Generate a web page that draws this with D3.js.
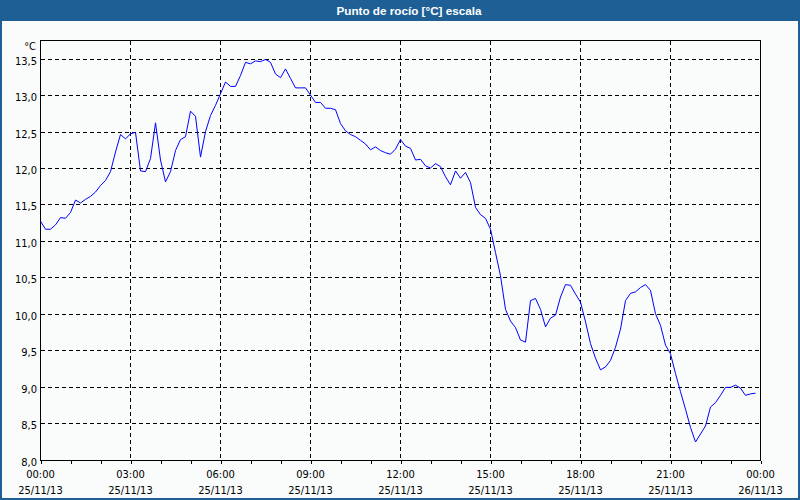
<!DOCTYPE html>
<html>
<head>
<meta charset="utf-8">
<script src="https://cdn.jsdelivr.net/npm/d3@7"></script>
<style>
  html, body { margin: 0; padding: 0; background: #f9fcfa; }
  svg { display: block; }
</style>
</head>
<body>
<svg id="chart" width="800" height="500"></svg>
<script>
// ---- data (10-minute samples, 25/11/13 00:00 .. 23:50) ----
const title = "Punto de rocío [°C] escala";
const unitLabel = "°C";
const startTime = "2013-11-25T00:00:00";
const endTime = "2013-11-26T00:00:00";
const stepMinutes = 10;
const dewPoint = [
  11.27, 11.16, 11.16, 11.22, 11.32, 11.31, // 00:00
  11.39, 11.56, 11.52, 11.57, 11.61, 11.67, // 01:00
  11.76, 11.83, 11.95, 12.22, 12.46, 12.40, // 02:00
  12.47, 12.49, 11.96, 11.95, 12.13, 12.62, // 03:00
  12.11, 11.81, 11.95, 12.24, 12.39, 12.43, // 04:00
  12.78, 12.71, 12.15, 12.50, 12.72, 12.86, // 05:00
  13.02, 13.18, 13.12, 13.12, 13.27, 13.45, // 06:00
  13.43, 13.47, 13.46, 13.49, 13.45, 13.29, // 07:00
  13.24, 13.36, 13.23, 13.10, 13.10, 13.10, // 08:00
  13.00, 12.90, 12.90, 12.82, 12.82, 12.80, // 09:00
  12.61, 12.51, 12.46, 12.43, 12.38, 12.33, // 10:00
  12.25, 12.29, 12.24, 12.21, 12.19, 12.26, // 11:00
  12.39, 12.30, 12.27, 12.11, 12.12, 12.03, // 12:00
  12.00, 12.06, 12.02, 11.88, 11.77, 11.96, // 13:00
  11.86, 11.94, 11.80, 11.46, 11.36, 11.31, // 14:00
  11.16, 10.84, 10.52, 10.06, 9.90, 9.81,   // 15:00
  9.64, 9.61, 10.18, 10.21, 10.06, 9.82,    // 16:00
  9.94, 9.98, 10.23, 10.40, 10.39, 10.27,   // 17:00
  10.16, 9.89, 9.59, 9.39, 9.23, 9.27,      // 18:00
  9.36, 9.54, 9.79, 10.18, 10.28, 10.30,    // 19:00
  10.36, 10.40, 10.32, 10.00, 9.84, 9.57,   // 20:00
  9.45, 9.18, 8.93, 8.69, 8.44, 8.24,       // 21:00
  8.35, 8.46, 8.72, 8.78, 8.88, 8.99,       // 22:00
  8.99, 9.02, 8.98, 8.88, 8.90, 8.91        // 23:00
];
const yTicks = [8.0, 8.5, 9.0, 9.5, 10.0, 10.5, 11.0, 11.5, 12.0, 12.5, 13.0, 13.5];
const yDomain = [8.0, 13.75];

(function () {
// ---- layout ----
const W = 800, H = 500;
const pL = 40.5, pR = 760.5, pT = 40.5, pB = 459.5;
const svg = d3.select("#chart");
const fontFam = "'DejaVu Sans Condensed', 'Liberation Sans', sans-serif";

const t0 = new Date(startTime), t1 = new Date(endTime);
const x = d3.scaleTime().domain([t0, t1]).range([pL, pR]);
const y = d3.scaleLinear().domain(yDomain).range([pB, pT]);

const points = dewPoint.map((v, i) => ({ t: new Date(t0.getTime() + i * stepMinutes * 60000), v }));

// background + window frame
svg.append("rect").attr("x", 0).attr("y", 0).attr("width", W).attr("height", H).attr("fill", "#f9fcfa");
svg.append("rect").attr("x", 1).attr("y", 1).attr("width", W - 2).attr("height", H - 2)
  .attr("fill", "none").attr("stroke", "#1e6096").attr("stroke-width", 2);
svg.append("rect").attr("x", 0).attr("y", 0).attr("width", W).attr("height", 21).attr("fill", "#1e6096");
svg.append("text").attr("x", 409).attr("y", 15)
  .attr("text-anchor", "middle").attr("fill", "#ffffff")
  .attr("font-family", "'Liberation Sans', Arial, sans-serif").attr("font-weight", "bold")
  .attr("font-size", "11.7px").text(title);

// grid
const grid = svg.append("g").attr("stroke", "#000").attr("stroke-width", 1)
  .attr("stroke-dasharray", "4,3").attr("shape-rendering", "crispEdges");
grid.selectAll("line.h").data(yTicks).join("line").attr("class", "h")
  .attr("x1", pL).attr("x2", pR)
  .attr("y1", d => Math.round(y(d)) + 0.5).attr("y2", d => Math.round(y(d)) + 0.5);
const vTicks = x.ticks(d3.timeHour.every(3)).filter(d => +d > +t0 && +d < +t1);
grid.selectAll("line.v").data(vTicks).join("line").attr("class", "v")
  .attr("y1", pT).attr("y2", pB)
  .attr("x1", d => Math.round(x(d) - 0.5) + 0.5).attr("x2", d => Math.round(x(d) - 0.5) + 0.5);

// plot frame
svg.append("rect").attr("x", pL).attr("y", pT).attr("width", pR - pL).attr("height", pB - pT + 1)
  .attr("fill", "none").attr("stroke", "#000").attr("stroke-width", 1).attr("shape-rendering", "crispEdges");

// x axis (hourly ticks, labels every 3h)
const xAxis = d3.axisBottom(x).ticks(d3.timeHour.every(1)).tickSize(3).tickFormat("");
const gx = svg.append("g").attr("transform", `translate(0,${pB + 1})`).call(xAxis);
gx.select(".domain").remove();
gx.selectAll(".tick line").attr("stroke", "#000").attr("shape-rendering", "crispEdges");

const labelTicks = x.ticks(d3.timeHour.every(3));
const fTime = d3.timeFormat("%H:%M"), fDate = d3.timeFormat("%d/%m/%y");
const xl = svg.append("g").attr("font-family", fontFam).attr("font-size", "11px").attr("fill", "#000")
  .attr("text-anchor", "middle");
xl.selectAll("text.t").data(labelTicks).join("text").attr("class", "t")
  .attr("x", d => x(d)).attr("y", 478).text(d => fTime(d));
xl.selectAll("text.d").data(labelTicks).join("text").attr("class", "d")
  .attr("x", d => x(d)).attr("y", 494).text(d => fDate(d));

// y axis labels
const yl = svg.append("g").attr("font-family", fontFam).attr("font-size", "11px").attr("fill", "#000")
  .attr("text-anchor", "end");
yl.selectAll("text").data(yTicks).join("text")
  .attr("x", 37).attr("y", d => y(d) + 6)
  .text(d => d3.format(".1f")(d).replace(".", ","));
svg.append("text").attr("x", 36).attr("y", 50).attr("text-anchor", "end")
  .attr("font-family", fontFam).attr("font-size", "11px").text(unitLabel);

// series line
const line = d3.line().x(d => x(d.t)).y(d => y(d.v));
svg.append("path").datum(points).attr("d", line)
  .attr("fill", "none").attr("stroke", "#0000ff").attr("stroke-width", 1);
})();
</script>
</body>
</html>
